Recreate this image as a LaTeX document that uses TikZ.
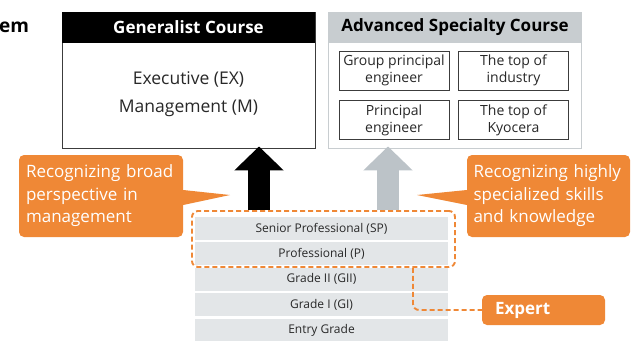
\documentclass[tikz,border=0pt]{standalone}
\usepackage{fontspec}
\setmainfont{Open Sans}
\usetikzlibrary{arrows.meta,positioning,calc}
\definecolor{accent}{RGB}{239,136,54}
\definecolor{frame}{RGB}{60,60,60}
\definecolor{mist}{RGB}{200,205,208}
\definecolor{steel}{RGB}{188,195,200}
\definecolor{bar}{RGB}{227,230,232}
\definecolor{ink}{RGB}{40,40,40}
\tikzset{
  course/.style={draw=#1,fill=white,line width=0.9pt,minimum width=253pt,minimum height=136pt},
  head/.style={fill=#1,minimum width=253pt,minimum height=31pt,font=\fontsize{17}{19}\selectfont\bfseries},
  title/.style={font=\fontsize{17.5}{20}\selectfont,text=ink},
  post/.style={draw=frame,fill=white,line width=0.7pt,minimum width=110pt,minimum height=39pt,
    align=center,font=\fontsize{14}{17}\selectfont,text=ink,inner sep=1pt},
  grade/.style={fill=bar,minimum width=253pt,minimum height=23pt,inner sep=0pt,
    font=\fontsize{12}{14}\selectfont,text=ink},
  note/.style={fill=accent,text=white,rounded corners=5pt,minimum width=164pt,minimum height=82pt,
    text width=150pt,inner xsep=7pt,align=left,font=\fontsize{17}{22.5}\selectfont},
  tag/.style={fill=accent,text=white,rounded corners=5pt,minimum width=123pt,minimum height=30pt,
    text width=97pt,inner xsep=13pt,align=left,font=\fontsize{17}{20}\selectfont\bfseries},
  zone/.style={draw=accent,dash pattern=on 5pt off 3pt,line width=1.9pt,rounded corners=6pt},
  rise/.style={draw=#1,line width=22pt,-{Triangle[length=24pt,width=48pt,fill=#1]}},
}

\begin{document}
\begin{tikzpicture}[x=1pt,y=-1pt]
  \useasboundingbox (0,0) rectangle (637,340);
  % cut title
  \node[anchor=base west,inner sep=0pt,font=\fontsize{19}{22}\selectfont\bfseries] (cut) at (-1,32) {em};

  % courses
  \node[course=frame] (gen) at (188.5,80) {};
  \node[head=black,text=white,below=0pt of gen.north] (genhead) {Generalist Course};
  \node[title] (ex) at (188.5,79) {Executive (EX)};
  \node[title] (mg) at (188.5,108) {Management (M)};

  \node[course=mist] (adv) at (455,80) {};
  \node[head=mist,text=black,below=0pt of adv.north] (advhead) {Advanced Specialty Course};
  \node[post] (gpe) at (394,70.5) {Group principal\\engineer};
  \node[post] (toi) at (513.5,70.5) {The top of\\industry};
  \node[post] (pe) at (394,120) {Principal\\engineer};
  \node[post] (tok) at (513.5,120) {The top of\\Kyocera};

  % grades
  \foreach \t [count=\i] in {Senior Professional (SP),Professional (P),Grade II (GII),Grade I (GI),Entry Grade}
    \node[grade] (g\i) at (321.5,{228.5+25.4*(\i-1)}) {\t};

  \node[zone,minimum width=263pt,minimum height=56pt] (pro) at (323.5,239) {};

  % arrows up
  \draw[rise=black] (pro.north -| 259,0) -- ([yshift=2pt]gen.south -| 259,0);
  \draw[rise=steel] (pro.north -| 388,0) -- ([yshift=2pt]adv.south -| 388,0);

  % callouts
  \node[note] (broad) at (101,196) {Recognizing broad\\perspective in\\management};
  \coordinate (broadtip) at (230,195);
  \fill[accent] ([yshift=-9pt]broad.east) -- (broadtip) -- ([yshift=6pt]broad.east) -- cycle;
  \node[note,minimum width=163pt,inner xsep=6pt] (skill) at (548.5,196) {Recognizing highly\\specialized skills\\and knowledge};
  \coordinate (skilltip) at (417,195);
  \fill[accent] ([yshift=-9pt]skill.west) -- (skilltip) -- ([yshift=6pt]skill.west) -- cycle;

  % expert
  \node[tag] (expert) at (543.5,310) {Expert};
  \draw[zone] (pro.south -| 413,0) |- (expert.west);
\end{tikzpicture}
\end{document}
